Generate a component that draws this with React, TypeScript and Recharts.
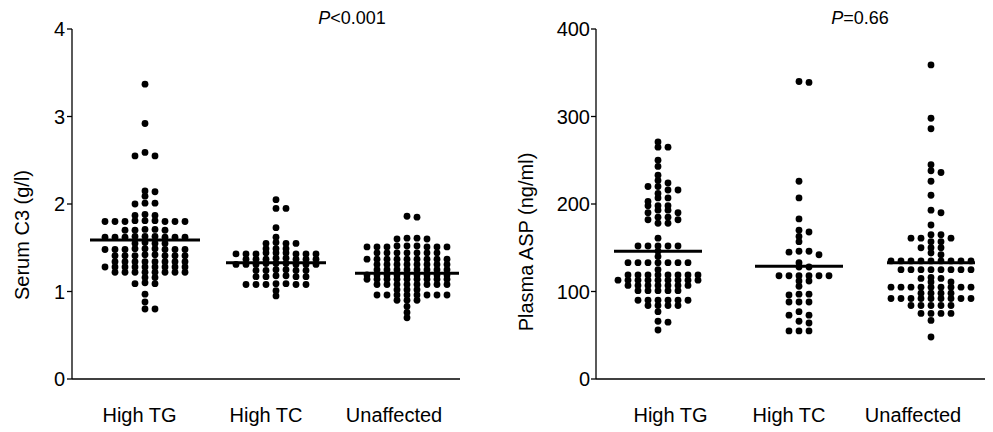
import React from 'react';
import { ScatterChart, Scatter, XAxis, YAxis, ReferenceLine } from 'recharts';

// ---------------- data ----------------
const CATEGORIES = ['High TG', 'High TC', 'Unaffected'];

const C3_HIGH_TG = [
  3.37, 2.92, 2.59, 2.55, 2.55,
  2.15, 2.14, 2.09,
  2.01, 2.01, 2.0,
  1.87, 1.87, 1.88,
  1.8, 1.8, 1.81, 1.8, 1.8, 1.81, 1.8, 1.81, 1.8,
  1.7, 1.71, 1.7, 1.7, 1.71,
  1.62, 1.62, 1.63, 1.62, 1.62, 1.63, 1.62, 1.62, 1.63,
  1.55, 1.55, 1.56, 1.55,
  1.48, 1.48, 1.49, 1.48, 1.48, 1.49, 1.48, 1.48, 1.49,
  1.41, 1.41, 1.42, 1.41, 1.41, 1.42, 1.41, 1.41,
  1.34, 1.34, 1.34, 1.34, 1.34, 1.34, 1.34, 1.34,
  1.28, 1.28, 1.28, 1.28, 1.28, 1.28, 1.28, 1.28, 1.28,
  1.22, 1.22, 1.22, 1.22, 1.22, 1.22, 1.22, 1.22,
  1.16, 1.16,
  1.09, 1.09, 1.1,
  0.97, 0.88, 0.8, 0.8,
];
const C3_HIGH_TC = [
  2.05, 1.95, 1.95, 1.73, 1.62,
  1.55, 1.55, 1.56, 1.55,
  1.49, 1.49, 1.49,
  1.43, 1.43, 1.44, 1.43, 1.43, 1.44, 1.43, 1.43, 1.44,
  1.37, 1.37, 1.38, 1.37, 1.37, 1.38, 1.37, 1.37,
  1.31, 1.31, 1.32, 1.31, 1.31, 1.32, 1.31, 1.31, 1.32,
  1.24, 1.24, 1.25, 1.24, 1.24, 1.25,
  1.17, 1.17, 1.18, 1.17, 1.17, 1.18,
  1.08, 1.08, 1.09, 1.08, 1.08, 1.09, 1.08,
  1.01, 0.95,
];
const C3_UNAFFECTED = [
  1.86, 1.85,
  1.61, 1.6, 1.61, 1.6,
  1.51, 1.51, 1.52, 1.51, 1.51, 1.52, 1.51, 1.51, 1.52,
  1.44, 1.44, 1.44, 1.44, 1.44, 1.44, 1.44,
  1.37, 1.37, 1.37, 1.37, 1.37, 1.37, 1.37, 1.37, 1.37,
  1.31, 1.31, 1.31, 1.31, 1.31, 1.31, 1.31, 1.31,
  1.25, 1.25, 1.25, 1.25, 1.25, 1.25, 1.25, 1.25,
  1.19, 1.19, 1.19, 1.19, 1.19, 1.19, 1.19, 1.19, 1.19,
  1.14, 1.14, 1.14, 1.14, 1.14, 1.14, 1.14, 1.14, 1.14,
  1.08, 1.08, 1.08, 1.08, 1.08, 1.08, 1.08, 1.08,
  1.02, 1.02, 1.02,
  0.96, 0.96, 0.96, 0.96, 0.96, 0.96, 0.96, 0.96,
  0.9, 0.9, 0.9,
  0.83, 0.76, 0.7,
];
const C3_MEANS = [1.59, 1.33, 1.21];
const C3_TICKS = [0, 1, 2, 3, 4];

const ASP_HIGH_TG = [
  271, 265, 265, 250, 243, 233, 227, 224, 220, 220, 216, 216, 212,
  207, 207, 203, 198, 198, 198, 193, 193, 190, 190, 185, 185, 182, 182,
  178, 178, 161,
  152, 152, 152, 152, 152,
  146, 140,
  133, 133, 133, 133, 133, 133, 133,
  125,
  119, 119, 119, 119, 119, 119, 119, 119,
  113, 113, 113, 113, 113, 113, 113, 113, 113,
  107, 107, 107, 107, 107, 107, 107,
  101, 101, 101, 101, 101,
  90, 90, 90, 90, 90, 90,
  84, 84, 84, 84,
  77, 66, 65, 56,
];
const ASP_HIGH_TC = [
  340, 339, 226, 207, 183, 170, 168, 163, 157,
  146, 146, 145, 142, 133, 128, 128,
  118, 118, 118, 118, 118, 118,
  112, 112, 106, 97, 97, 96, 88, 88, 88,
  77, 73, 73, 66, 64, 55, 55, 55,
];
const ASP_UNAFFECTED = [
  359, 298, 286, 245, 238, 236, 226, 210, 193, 190, 176,
  165, 165, 161, 161, 161, 157, 157,
  150, 150, 150, 144, 142,
  135, 135, 135, 135, 135, 135, 135, 135, 135,
  125, 125, 125, 125, 125, 125, 125, 125,
  116, 115, 115, 111, 111,
  105, 105, 105, 105, 105, 105, 105, 105, 105,
  98, 98, 98, 98,
  92, 92, 92, 92, 92, 92, 92, 92, 92,
  84, 84, 84, 84, 84,
  75, 75, 75, 75,
  67, 48,
];
const ASP_MEANS = [146, 129, 133];
const ASP_TICKS = [0, 100, 200, 300, 400];

// ---------------- layout ----------------
const FONT = '"Liberation Sans", Arial, Helvetica, sans-serif';
const H = 432;
const PLOT_TOP = 29;
const PLOT_BOTTOM = 379;
const DOT_COL = 10;
const DOT_R = 3.4;
const GAP_PX = 4.2;

type Panel = {
  left: number;
  width: number;
  yWidth: number;
  marginRight: number;
  tickMargin: number;
  centers: number[];
  labelX: number[];
  halfLine: number[];
  groups: number[][];
  means: number[];
  ticks: number[];
  max: number;
};

const PANELS: Panel[] = [
  {
    left: 0,
    width: 500,
    yWidth: 72,
    marginRight: 40,
    tickMargin: 2,
    centers: [73, 204, 335],
    labelX: [67.5, 194, 322],
    halfLine: [55, 50, 52],
    groups: [C3_HIGH_TG, C3_HIGH_TC, C3_UNAFFECTED],
    means: C3_MEANS,
    ticks: C3_TICKS,
    max: 4,
  },
  {
    left: 500,
    width: 493,
    yWidth: 96,
    marginRight: 8,
    tickMargin: 1,
    centers: [62, 203, 335],
    labelX: [74.5, 193, 317],
    halfLine: [44, 44, 44],
    groups: [ASP_HIGH_TG, ASP_HIGH_TC, ASP_UNAFFECTED],
    means: ASP_MEANS,
    ticks: ASP_TICKS,
    max: 400,
  },
];

function swarm(values: number[], center: number, pxPerUnit: number) {
  const sorted = [...values].sort((a, b) => b - a);
  const placed: { col: number; py: number }[] = [];
  return sorted.map((v) => {
    const py = v * pxPerUnit;
    let k = 0;
    // eslint-disable-next-line no-constant-condition
    while (true) {
      const col = k === 0 ? 0 : k % 2 === 1 ? (k + 1) / 2 : -k / 2;
      if (!placed.some((p) => p.col === col && Math.abs(p.py - py) < GAP_PX)) {
        placed.push({ col, py });
        return { x: center + col * DOT_COL, y: v };
      }
      k++;
    }
  });
}

const Dot = (props: any) => {
  const { cx, cy } = props;
  if (cx == null || cy == null) return null;
  return <circle cx={cx} cy={cy} r={DOT_R} fill="#000" />;
};

function PanelChart({ p }: { p: Panel }) {
  const plotW = p.width - p.yWidth - p.marginRight;
  const pxPerUnit = (PLOT_BOTTOM - PLOT_TOP) / p.max;
  const xTick = (props: any) => {
    const { x, payload } = props;
    const i = p.labelX.indexOf(payload.value);
    return (
      <text x={x} y={422} textAnchor="middle" fontSize={20} fontFamily={FONT} fill="#000">
        {CATEGORIES[i]}
      </text>
    );
  };
  return (
    <div style={{ position: 'absolute', left: p.left, top: 0 }}>
      <ScatterChart
        width={p.width}
        height={H}
        margin={{ top: PLOT_TOP, right: p.marginRight, bottom: H - PLOT_BOTTOM - 40, left: 0 }}
      >
        <XAxis
          type="number"
          dataKey="x"
          domain={[0, plotW]}
          ticks={p.labelX}
          interval={0}
          tick={xTick}
          tickLine={false}
          axisLine={{ stroke: '#000', strokeWidth: 1.3 }}
          height={40}
          allowDataOverflow
        />
        <YAxis
          type="number"
          dataKey="y"
          domain={[0, p.max]}
          ticks={p.ticks}
          interval={0}
          width={p.yWidth}
          tickSize={5}
          tickMargin={p.tickMargin}
          tick={{ fill: '#000', fontSize: 20, fontFamily: FONT }}
          axisLine={{ stroke: '#000', strokeWidth: 1.3 }}
          tickLine={{ stroke: '#000', strokeWidth: 1.3 }}
          allowDataOverflow
        />
        {p.groups.map((vals, gi) => (
          <Scatter
            key={gi}
            name={CATEGORIES[gi]}
            data={swarm(vals, p.centers[gi], pxPerUnit)}
            fill="#000"
            shape={Dot}
            isAnimationActive={false}
          />
        ))}
        {p.means.map((m, gi) => (
          <ReferenceLine
            key={'m' + gi}
            segment={[
              { x: p.centers[gi] - p.halfLine[gi], y: m },
              { x: p.centers[gi] + p.halfLine[gi], y: m },
            ]}
            stroke="#000"
            strokeWidth={3}
            ifOverflow="visible"
          />
        ))}
      </ScatterChart>
    </div>
  );
}

export default function App() {
  return (
    <div style={{ position: 'absolute', left: 0, top: 0, width: 993, height: H, background: '#fff' }}>
      {PANELS.map((p, i) => (
        <PanelChart key={i} p={p} />
      ))}
      <svg
        width={993}
        height={H}
        style={{ position: 'absolute', left: 0, top: 0, pointerEvents: 'none' }}
        fontFamily={FONT}
      >
        <text transform="translate(29,235) rotate(-90)" textAnchor="middle" fontSize={20} fill="#000">
          Serum C3 (g/l)
        </text>
        <text transform="translate(533,242) rotate(-90)" textAnchor="middle" fontSize={20} fill="#000">
          Plasma ASP (ng/ml)
        </text>
        <text x={352} y={24} textAnchor="middle" fontSize={18} fill="#000">
          <tspan fontStyle="italic">P</tspan>&lt;0.001
        </text>
        <text x={860} y={24} textAnchor="middle" fontSize={18} fill="#000">
          <tspan fontStyle="italic">P</tspan>=0.66
        </text>
      </svg>
    </div>
  );
}
